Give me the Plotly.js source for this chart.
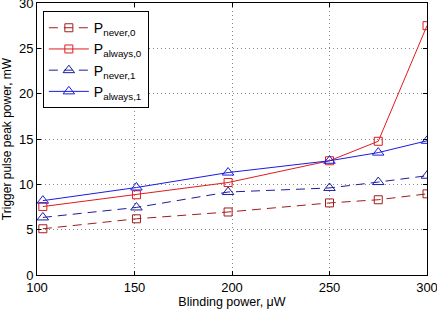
<!DOCTYPE html>
<html>
<head>
<meta charset="utf-8">
<script src="https://cdn.plot.ly/plotly-3.0.1.min.js"></script>
<style>html,body{margin:0;padding:0;background:#fff;}#chart{width:437px;height:309px;}</style>
</head>
<body>
<div id="chart"></div>
<script>
var blindingPower = [103, 151, 198, 250, 275, 300];
var pNever0  = [5.1, 6.2, 6.95, 7.95, 8.3, 8.95];
var pAlways0 = [7.55, 8.85, 10.2, 12.6, 14.75, 27.5];
var pNever1  = [6.35, 7.45, 9.15, 9.6, 10.25, 10.95];
var pAlways1 = [8.2, 9.65, 11.3, 12.6, 13.5, 14.8];
var seriesNames = ['P<sub>never,0</sub>', 'P<sub>always,0</sub>', 'P<sub>never,1</sub>', 'P<sub>always,1</sub>'];
var xTicks = [100, 150, 200, 250, 300];
var yTicks = [0, 5, 10, 15, 20, 25, 30];

var traces = [
  {x: blindingPower, y: pNever0, name: seriesNames[0], mode: 'lines+markers',
   line: {color: '#a01c1c', width: 1, dash: '9px,6px'},
   marker: {symbol: 'square-open', size: 8, color: '#a01c1c', line: {width: 1}}},
  {x: blindingPower, y: pAlways0, name: seriesNames[1], mode: 'lines+markers',
   line: {color: '#e01b1b', width: 1},
   marker: {symbol: 'square-open', size: 8, color: '#e01b1b', line: {width: 1}}},
  {x: blindingPower, y: pNever1, name: seriesNames[2], mode: 'lines+markers',
   line: {color: '#1c1ca0', width: 1, dash: '9px,6px'},
   marker: {symbol: 'triangle-up-open', size: 10, color: '#1c1ca0', line: {width: 1}}},
  {x: blindingPower, y: pAlways1, name: seriesNames[3], mode: 'lines+markers',
   line: {color: '#1b1be0', width: 1},
   marker: {symbol: 'triangle-up-open', size: 10, color: '#1b1be0', line: {width: 1}}}
];

var layout = {
  width: 437, height: 309,
  margin: {l: 37, r: 10, t: 3, b: 34},
  paper_bgcolor: '#fff', plot_bgcolor: '#fff',
  font: {family: 'Liberation Sans, Arial, sans-serif', size: 13, color: '#000'},
  showlegend: true,
  legend: {x: 0.015, y: 0.97, xanchor: 'left', yanchor: 'top',
    bordercolor: '#000', borderwidth: 1, bgcolor: '#fff',
    font: {size: 14}, tracegroupgap: 0, itemwidth: 40},
  xaxis: {range: [100, 300], tickvals: xTicks, ticktext: xTicks.map(String),
    showgrid: true, gridcolor: '#888', griddash: '1px,3px', gridwidth: 1,
    zeroline: false, showline: true, linecolor: '#000', linewidth: 1, mirror: 'ticks',
    ticks: 'inside', ticklen: 4, tickcolor: '#000', ticklabeloverflow: 'allow',
    title: {text: 'Blinding power, μW', font: {size: 12.5}, standoff: 3}},
  yaxis: {range: [0, 30], tickvals: yTicks, ticktext: yTicks.map(String),
    showgrid: true, gridcolor: '#888', griddash: '1px,3px', gridwidth: 1,
    zeroline: false, showline: true, linecolor: '#000', linewidth: 1, mirror: 'ticks',
    ticks: 'inside', ticklen: 4, tickcolor: '#000', ticklabeloverflow: 'allow',
    title: {text: 'Trigger pulse peak power, mW', font: {size: 12}, standoff: 5}}
};

Plotly.newPlot('chart', traces, layout, {staticPlot: true, displayModeBar: false});
</script>
</body>
</html>
